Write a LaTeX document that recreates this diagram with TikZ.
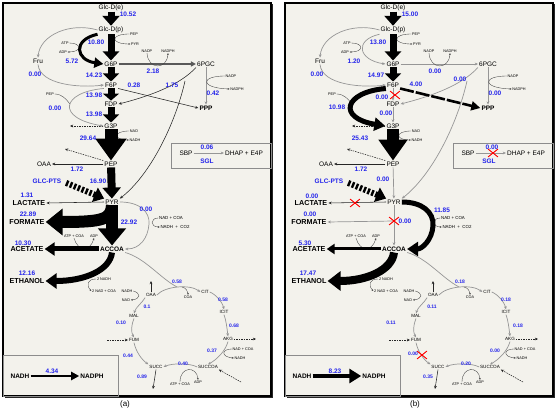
\documentclass[tikz,border=0pt]{standalone}
\usepackage{fontspec}
\setmainfont{Liberation Sans}
\usetikzlibrary{arrows.meta,positioning,shapes.misc,calc}

\definecolor{panelbg}{RGB}{243,242,236}
\definecolor{fluxblue}{RGB}{35,35,235}
\definecolor{linegray}{RGB}{150,150,150}

% common part of one flux map (nodes, cofactors, TCA cycle, boxes)
\newcommand{\fluxmap}{%
  \fill[black!85] (4.5,4.5) rectangle (272.5,397.5);
  \draw[panel] (3,3) rectangle (271,396);
  % central metabolites
  \node[met] (glce) at (111,7.5) {Glc-D(e)};
  \node[met] (glcp) at (111,30) {Glc-D(p)};
  \node[met] (g6p) at (111,64) {G6P};
  \node[met] (f6p) at (111,85) {F6P};
  \node[met] (fdp) at (111,104) {FDP};
  \node[met] (g3p) at (111,126) {G3P};
  \node[met] (pep) at (111,164) {PEP};
  \node[met] (pyr) at (112,202) {PYR};
  \node[metb] (accoa) at (112,249) {ACCOA};
  \node[met] (fru) at (38,61) {Fru};
  \node[met] (pgc) at (206,64) {6PGC};
  \node[metb] (ppp) at (206,108) {PPP};
  \node[met] (oaa) at (44,164) {OAA};
  \node[val] (glcpts) at (47,181) {GLC-PTS};
  \node[prod] (lac) at (29,203) {LACTATE};
  \node[prod] (form) at (27,222) {FORMATE};
  \node[prod] (acet) at (27,249) {ACETATE};
  \node[prod] (etoh) at (27,281) {ETHANOL};
  % cofactors
  \node[cof] (pepa) at (134,34) {PEP};
  \node[cof] (pyra) at (135,44) {PYR};
  \node[cof] (atp) at (65,43) {ATP};
  \node[cof] (adp) at (63,52) {ADP};
  \node[cof] (nadpa) at (147,51) {NADP};
  \node[cof] (nadpha) at (168,51) {NADPH};
  \node[cof] (nadpb) at (231,76) {NADP};
  \node[cof] (nadphb) at (237,89) {NADPH};
  \node[cof] (pepb) at (50,94) {PEP};
  \node[cof] (nada) at (134,131) {NAD};
  \node[cof] (nadha) at (135,140) {NADH};
  \node[cofb] (nadcoa) at (171,218) {NAD + COA};
  \node[cofb] (nadhco) at (175,227) {NADH\ \ +\ \ CO2};
  \node[cof] (atpcoa) at (74,236) {ATP + COA};
  \node[cof] (adpb) at (94,236) {ADP};
  \node[cof] (nadhe) at (104,279) {2 NADH};
  \node[cof] (nadcoae) at (104,291) {2 NAD + COA};
  % thin connectors
  \draw[grayarr] (glcp.west) .. controls (70,22) and (40,35) .. (fru.north);
  \draw[grayarr] (fru.south) .. controls (40,85) and (80,88) .. (f6p.west);
  \draw[cofarr] (atp.east) .. controls (82,43) and (82,52) .. (adp.east);
  \draw[cofarr] (pepa.west) .. controls (110,34) and (110,44) .. (pyra.west);
  \draw[zwfline] (g6p) -- (pgc);
  \draw[cofarr] (nadpa.south) .. controls (148,70) and (167,70) .. (nadpha.south);
  \draw[grayarr] (pgc.south) -- (ppp.north);
  \draw[cofarr] (nadpb.west) .. controls (200,76) and (200,88) .. (nadphb.west);
  \coordinate (eddsplit) at (185,81);
  \draw[eddline] (pgc.south west) .. controls (180,85) and (150,96) .. (fdp.east);
  \draw[eddline] (eddsplit) .. controls (175,125) and (150,175) .. (pyr.north east);
  \coordinate (pepjoin) at (70,104);
  \draw[cofline] (pepb.east) .. controls (62,94) and (66,99) .. (pepjoin);
  \draw[cofarr] (nada.west) .. controls (113,131) and (113,140) .. (nadha.west);
  \coordinate (g3pout) at (70,126);
  \draw[dasharr] (g3p.west) -- (g3pout);
  \coordinate (pepout) at (65,149);
  \draw[dasharr] (pep.north west) -- (pepout);
  \draw[thinarr] (pep.west) -- (oaa.east);
  \draw[ptsarr] (glcpts.east) -- (pyr.north west);
  \draw[thinarr] (pyr.west) -- (lac.east);
  \draw[cofarr] (nadcoa.west) .. controls (150,218) and (150,227) .. (nadhco.west);
  \draw[cofarr] (atpcoa.south) .. controls (78,252) and (90,252) .. (adpb.south);
  \draw[cofarr] (nadhe.west) .. controls (87,279) and (86,285) .. (nadcoae.west);
  % SBP box
  \draw[boxline] (171,143) rectangle (271,168);
  \node[met] (sbp) at (186,153) {SBP};
  \node[met] (dhap) at (244,153) {DHAP + E4P};
  \draw[grayarr] (sbp) -- (dhap);
  \node[val] (sgl) at (207,161) {SGL};
  % TCA cycle
  \node[tca] (toaa) at (151,295) {OAA};
  \node[tca] (tcit) at (205,292) {CIT};
  \node[tca] (ticit) at (224,312) {ICIT};
  \node[tca] (takg) at (228,339) {AKG};
  \node[tca] (tsuccoa) at (208,367) {SUCCOA};
  \node[tca] (tsucc) at (156,367) {SUCC};
  \node[tca] (tfum) at (134,340) {FUM};
  \node[tca] (tmal) at (134,316) {MAL};
  \coordinate (tcajoin) at (177,287);
  \draw[grayline] (accoa.south east) .. controls (145,258) and (160,278) .. (tcajoin);
  \draw[grayarr] (toaa.east) .. controls (165,286) and (190,284) .. (tcit.west);
  \draw[grayarr] (tcit.east) .. controls (215,294) and (222,301) .. (ticit.north);
  \draw[grayarr] (ticit.south) .. controls (226,320) and (227,328) .. (takg.north);
  \draw[grayarr] (takg.south) .. controls (225,352) and (216,360) .. (tsuccoa.north);
  \draw[grayarr] (tsuccoa.west) .. controls (190,363) and (172,363) .. (tsucc.east);
  \draw[grayarr] (tfum.south) .. controls (136,352) and (142,360) .. (tsucc.north west);
  \draw[grayarr] (tmal.south) .. controls (131,326) and (131,332) .. (tfum.north);
  \draw[grayarr] (toaa.south west) .. controls (142,303) and (136,307) .. (tmal.north);
  \node[cof] (tcoa) at (188,297) {COA};
  \coordinate (citcoa) at (182,287);
  \draw[cofarr] (citcoa) .. controls (186,288) and (188,291) .. (tcoa.north);
  \node[cof] (tnadh) at (127,291) {NADH};
  \node[cof] (tnad) at (126,300) {NAD};
  \draw[cofarr] (tnadh.east) .. controls (141,293) and (141,299) .. (tnad.east);
  \node[cof] (tnadcoa) at (243,349) {NAD + COA};
  \node[cof] (tnadhb) at (240,358) {NADH};
  \draw[cofarr] (tnadcoa.west) .. controls (221,349) and (221,357) .. (tnadhb.west);
  \node[cof] (tatp) at (180,384) {ATP + COA};
  \node[cof] (tadp) at (198,382) {ADP};
  \draw[cofarr] (tatp.north) .. controls (180,366) and (197,366) .. (tadp.north);
  \coordinate (fumin) at (107,340);
  \draw[dasharr] (fumin) -- (tfum.west);
  \coordinate (akgout) at (256,339);
  \draw[dasharr] (takg.east) -- (akgout);
  \coordinate (succoain) at (241,382);
  \draw[dasharr] (succoain) -- (tsuccoa.south east);
  \coordinate (oaaout) at (151,281);
  \draw[thinarr] (toaa.north) -- (oaaout);
  \coordinate (succout) at (153,389);
  \draw[thinarr] (tsucc.south) -- (succout);
  % NADH box
  \draw[boxline] (3,355) rectangle (118,396);
  \node[metb] (boxnadh) at (20,376) {NADH};
  \node[metb] (boxnadph) at (92,376) {NADPH};
}

\begin{document}
\begin{tikzpicture}[
		x=1pt, y=-1pt,
		met/.style={font=\fontsize{6.5}{7}\selectfont, inner sep=1pt},
		metb/.style={font=\bfseries\fontsize{6.5}{7}\selectfont, inner sep=1pt},
		prod/.style={font=\bfseries\fontsize{7.2}{8}\selectfont, inner sep=1pt},
		cof/.style={font=\fontsize{3.8}{4}\selectfont, inner sep=0.6pt},
		cofb/.style={font=\fontsize{4.4}{5}\selectfont, inner sep=0.6pt},
		tca/.style={font=\fontsize{4.6}{5}\selectfont, inner sep=0.8pt},
		val/.style={font=\bfseries\fontsize{6.5}{7}\selectfont, text=fluxblue, inner sep=0pt},
		tval/.style={font=\bfseries\fontsize{5}{6}\selectfont, text=fluxblue, inner sep=0pt},
		cofline/.style={draw=black!75, line width=0.35pt},
		cofarr/.style={cofline, -{Stealth[length=2pt,width=1.8pt]}},
		thinarr/.style={draw=black!85, line width=0.55pt, -{Stealth[length=3.2pt,width=2.8pt]}},
		grayline/.style={draw=linegray, line width=0.7pt},
		grayarr/.style={grayline, -{Stealth[length=3.2pt,width=2.8pt]}},
		dasharr/.style={thinarr, dash pattern=on 1.5pt off 1pt},
		flux/.style n args={3}{draw=black, line width=#1, -{Triangle[width=#2,length=#3]}},
		ptsarr/.style={draw=black, line width=6pt, dash pattern=on 2.4pt off 1.8pt, shorten <=5pt, -{Triangle[width=15pt,length=10pt]}},
		knock/.style={cross out, draw=red, line width=0.9pt, minimum width=9pt, minimum height=7pt, inner sep=0pt},
		panel/.style={draw=black, line width=1.1pt, fill=panelbg},
		boxline/.style={draw=black!45, line width=0.8pt},
		caption/.style={font=\fontsize{8}{9}\selectfont}
		]
		\useasboundingbox (0,0) rectangle (556,411);
		\fill[white] (0,0) rectangle (556,411);
		
		% (a) wild type
		\begin{scope}[name prefix=a-, eddline/.style={thinarr},
			zwfline/.style={draw=black!65, line width=1.2pt, -{Triangle[width=5pt,length=5pt]}}]
			\fluxmap
			\draw[flux={7pt}{17pt}{10pt}] (glce) -- (glcp);
			\draw[flux={7pt}{16pt}{9pt}] (glcp) -- (g6p);
			\draw[flux={3pt}{10pt}{9pt}] (glcp.south west) .. controls (72,40) and (76,60) .. (g6p.west);
			\draw[flux={7pt}{16pt}{8pt}] (g6p) -- (f6p);
			\draw[flux={7pt}{16pt}{7pt}] (f6p) -- (fdp);
			\draw[flux={7pt}{16pt}{8pt}] (fdp) -- (g3p);
			\draw[grayarr] (f6p.south west) .. controls (62,92) and (55,118) .. (g3p.west);
			\draw[thinarr] (f6p.south east) -- (ppp.west);
			\draw[flux={13pt}{30pt}{22pt}] (g3p) -- (pep);
			\draw[flux={8pt}{18pt}{11pt}] (pep) -- (pyr);
			\draw[flux={12pt}{26pt}{17pt}] (pyr.south) .. controls (111,219) and (104,222) .. (form.east);
			\draw[flux={12pt}{27pt}{17pt}] (pyr) -- (accoa);
			\draw[grayarr] (pyr.east) .. controls (140,202) and (150,212) .. (149,224) .. controls (148,238) and (140,249) .. (accoa.east);
			\draw[flux={5pt}{13pt}{10pt}] (accoa) -- (acet);
			\draw[flux={6pt}{15pt}{11pt}] (accoa.south) .. controls (110,270) and (85,281) .. (etoh.east);
			\draw[flux={2pt}{8pt}{8pt}] (boxnadh) -- (boxnadph);
			% flux values
			\node[val] (v1) at (128,14) {10.52};
			\node[val] (v2) at (96,42) {10.80};
			\node[val] (v3) at (72,61) {5.72};
			\node[val] (v4) at (35,74) {0.00};
			\node[val] (v5) at (94,75) {14.23};
			\node[val] (v6) at (134,85) {0.28};
			\node[val] (v7) at (172,85) {1.75};
			\node[val] (v8) at (153,71) {2.18};
			\node[val] (v9) at (213,93) {0.42};
			\node[val] (v10) at (94,95) {13.98};
			\node[val] (v11) at (55,108) {0.00};
			\node[val] (v12) at (94,114) {13.98};
			\node[val] (v13) at (88,138) {29.64};
			\node[val] (v14) at (77,169) {1.72};
			\node[val] (v15) at (98,181) {16.90};
			\node[val] (v16) at (27,195) {1.31};
			\node[val] (v17) at (28,214) {22.89};
			\node[val] (v18) at (129,222) {22.92};
			\node[val] (v19) at (146,209) {0.00};
			\node[val] (v20) at (23,243) {10.30};
			\node[val] (v21) at (27,273) {12.16};
			\node[val] (v22) at (207,147) {0.06};
			\node[val] (v23) at (52,371) {4.34};
			\node[tval] (t1) at (177,282) {0.58};
			\node[tval] (t2) at (223,300) {0.58};
			\node[tval] (t3) at (234,326) {0.68};
			\node[tval] (t4) at (212,351) {0.37};
			\node[tval] (t5) at (183,364) {0.40};
			\node[tval] (t6) at (142,377) {0.89};
			\node[tval] (t7) at (128,356) {0.44};
			\node[tval] (t8) at (121,323) {0.10};
			\node[tval] (t9) at (147,307) {0.1};
			\node[caption] (cap) at (125,404) {(a)};
		\end{scope}
		
		% (b) mutant
		\begin{scope}[shift={(282,0)}, name prefix=b-, eddline/.style={grayarr},
			zwfline/.style={grayarr}]
			\fluxmap
			\draw[flux={7pt}{17pt}{10pt}] (glce) -- (glcp);
			\draw[flux={7pt}{16pt}{9pt}] (glcp) -- (g6p);
			\draw[grayarr] (glcp.south west) .. controls (72,40) and (76,60) .. (g6p.west);
			\draw[flux={7pt}{16pt}{8pt}] (g6p) -- (f6p);
			\draw[grayarr] (f6p) -- (fdp);
			\draw[grayarr] (fdp) -- (g3p);
			\draw[flux={5pt}{13pt}{11pt}] (f6p.south west) .. controls (62,92) and (55,118) .. (g3p.west);
			\draw[draw=black, line width=2.6pt, dash pattern=on 14pt off 2pt, -{Triangle[width=9pt,length=9pt]}] (f6p.south east) -- (ppp.west);
			\draw[flux={12pt}{28pt}{21pt}] (g3p) -- (pep);
			\draw[grayarr] (pep) -- (pyr);
			\draw[grayarr] (pyr) -- (accoa);
			\coordinate (pflsplit) at (112,221);
			\draw[grayarr] (pflsplit) -- (form.east);
			\draw[flux={5pt}{14pt}{11pt}] (pyr.east) .. controls (140,202) and (152,212) .. (151,226) .. controls (150,240) and (140,249) .. (accoa.east);
			\draw[flux={3pt}{10pt}{8pt}] (accoa) -- (acet);
			\draw[flux={8pt}{19pt}{13pt}] (accoa.south) .. controls (110,270) and (85,281) .. (etoh.east);
			\draw[flux={4pt}{14pt}{12pt}] (boxnadh) -- (boxnadph);
			% knocked-out reactions
			\node[knock] (k1) at (113,95) {};
			\node[knock] (k2) at (73,203) {};
			\node[knock] (k3) at (112,221) {};
			\node[knock] (k4) at (211,153) {};
			\node[knock] (k5) at (140,355) {};
			% flux values
			\node[val] (v1) at (128,14) {15.00};
			\node[val] (v2) at (96,42) {13.80};
			\node[val] (v3) at (72,61) {1.20};
			\node[val] (v4) at (35,74) {0.00};
			\node[val] (v5) at (94,75) {14.97};
			\node[val] (v6) at (134,84) {4.00};
			\node[val] (v7) at (178,79) {0.00};
			\node[val] (v8) at (153,71) {0.00};
			\node[val] (v9) at (213,93) {0.00};
			\node[val] (v10) at (100,97) {0.00};
			\node[val] (v11) at (55,107) {10.98};
			\node[val] (v12) at (104,113) {0.00};
			\node[val] (v13) at (78,138) {25.43};
			\node[val] (v14) at (79,169) {1.72};
			\node[val] (v15) at (101,179) {0.00};
			\node[val] (v16) at (30,196) {0.00};
			\node[val] (v17) at (28,214) {0.00};
			\node[val] (v18) at (123,221) {0.00};
			\node[val] (v19) at (160,210) {11.85};
			\node[val] (v20) at (23,243) {5.30};
			\node[val] (v21) at (26,273) {17.47};
			\node[val] (v22) at (210,147) {0.00};
			\node[val] (v23) at (53,371) {8.23};
			\node[tval] (t1) at (178,282) {0.18};
			\node[tval] (t2) at (224,300) {0.18};
			\node[tval] (t3) at (236,326) {0.18};
			\node[tval] (t4) at (213,351) {0.00};
			\node[tval] (t5) at (184,364) {0.20};
			\node[tval] (t6) at (146,377) {0.35};
			\node[tval] (t7) at (131,354) {0.00};
			\node[tval] (t8) at (109,323) {0.11};
			\node[tval] (t9) at (150,307) {0.11};
			\node[caption] (cap) at (133,404) {(b)};
		\end{scope}
		
	\end{tikzpicture}
\end{document}
